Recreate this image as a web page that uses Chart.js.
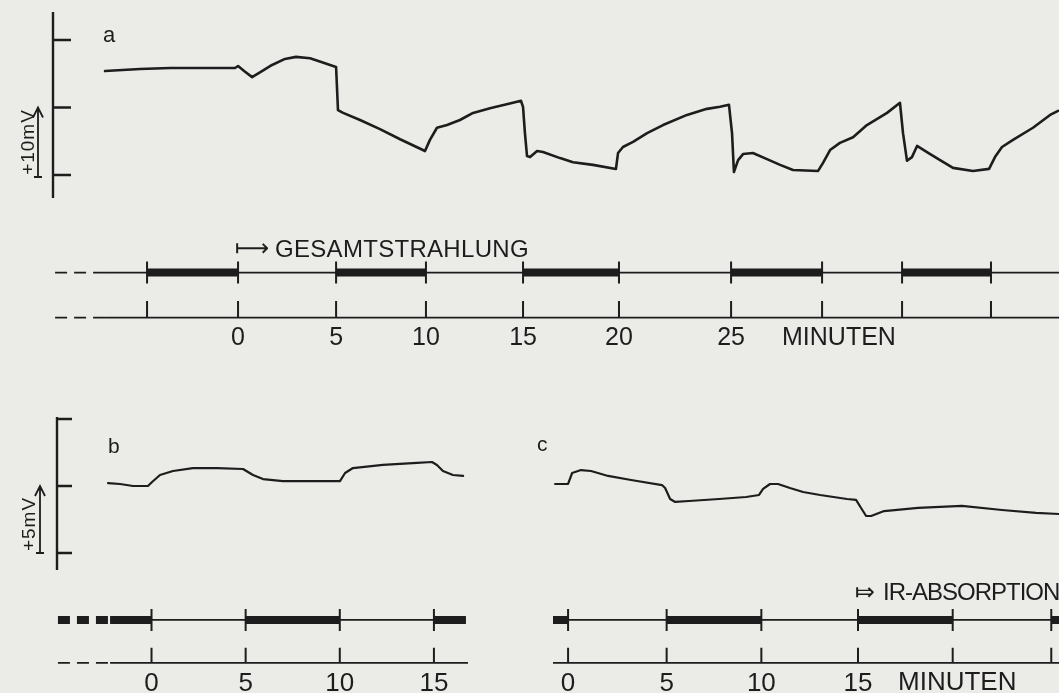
<!DOCTYPE html>
<html>
<head>
<meta charset="utf-8">
<script src="https://cdn.jsdelivr.net/npm/chart.js@4.4.1/dist/chart.umd.min.js"></script>
<style>
  html, body { margin: 0; padding: 0; }
  body { width: 1059px; height: 693px; overflow: hidden; position: relative; background: #ebebe8;
         font-family: "Liberation Sans", "DejaVu Sans", sans-serif; color: #1d1d1d; }
  canvas { position: absolute; }
  .t { position: absolute; line-height: 1; white-space: nowrap; }
  .rot { transform: translate(-50%, -50%) rotate(-90deg); }
  .arr { font-family: "DejaVu Sans", sans-serif; }
</style>
</head>
<body>
<canvas id="traceA" width="1059" height="210" style="left:0;top:0"></canvas>
<canvas id="lineA" width="1059" height="103" style="left:0;top:250px"></canvas>
<canvas id="traceB" width="480" height="180" style="left:0;top:400px"></canvas>
<canvas id="lineB" width="480" height="101" style="left:0;top:598px"></canvas>
<canvas id="traceC" width="519" height="180" style="left:540px;top:400px"></canvas>
<canvas id="lineC" width="519" height="101" style="left:540px;top:598px"></canvas>

<div class="t" style="left:103px;top:24px;font-size:22px">a</div>
<div class="t" style="left:108px;top:435px;font-size:21px">b</div>
<div class="t" style="left:537px;top:433px;font-size:21px">c</div>
<div class="t rot" style="left:27px;top:142px;font-size:19px;letter-spacing:1px">+10mV</div>
<div class="t rot" style="left:28px;top:524px;font-size:19px;letter-spacing:1px">+5mV</div>
<div class="t arr" style="left:235px;top:236px;font-size:24px">&#x27FC;</div>
<div class="t" style="left:275px;top:237px;font-size:24px;letter-spacing:0.3px">GESAMTSTRAHLUNG</div>
<div class="t" style="left:782px;top:324px;font-size:25px">MINUTEN</div>
<div class="t arr" style="left:855px;top:580px;font-size:24px">&#x2907;</div>
<div class="t" style="left:883px;top:580px;font-size:24px;letter-spacing:-1px">IR-ABSORPTION</div>
<div class="t" style="left:898px;top:668px;font-size:26px">MINUTEN</div>

<script>
const INK = '#1d1d1d';

// a: potential (mV above lowest axis tick) against time (min), total radiation
const aTime = [-7.0, -5.16, -3.58, -2.0, -0.16, 0, 0.32, 0.74, 1.26, 1.79, 2.47, 3.05, 3.79, 4.42, 5.0, 5.16,
  5.26, 5.53, 6.42, 7.47, 8.53, 9.84, 10.1, 10.47, 11.0, 11.68, 12.37, 13.26, 14.47, 14.89, 15.0, 15.1,
  15.21, 15.37, 15.74, 16.05, 16.95, 17.63, 18.68, 19.89, 20.0, 20.26, 20.79, 21.53, 22.37, 23.63, 24.68,
  25.37, 25.84, 26.0, 26.1, 26.32, 26.58, 27.1, 27.84, 28.53, 29.21, 30.53, 30.79, 31.16, 31.68, 32.37,
  33.1, 34.16, 34.84, 35.0, 35.21, 35.47, 35.74, 36.26, 36.95, 37.63, 38.68, 39.53, 39.84, 40.21, 40.79,
  41.84, 42.74, 43.16];
const aMv = [15.4, 15.7, 15.85, 15.85, 15.85, 16.15, 15.4, 14.5, 15.4, 16.3, 17.2, 17.5, 17.3, 16.7, 16.15, 16.0,
  9.6, 9.2, 8.15, 6.8, 5.3, 3.55, 5.2, 7.0, 7.4, 8.15, 9.2, 9.9, 10.7, 11.0, 10.1, 6.2,
  2.8, 2.65, 3.55, 3.4, 2.5, 1.9, 1.5, 0.9, 3.25, 4.15, 4.9, 6.2, 7.4, 8.9, 9.8,
  10.1, 10.4, 6.2, 0.45, 2.2, 3.1, 3.25, 2.35, 1.5, 0.75, 0.6, 1.8, 3.7, 4.75, 5.6,
  7.4, 9.2, 10.7, 6.2, 2.1, 2.65, 4.3, 3.4, 2.2, 1.05, 0.6, 0.9, 2.65, 4.15, 5.2,
  7.0, 8.9, 9.5];
const aEdges = [-4.79, 0, 5.16, 9.89, 15.0, 20.05, 25.95, 30.74, 34.95, 39.63];
const aEdgeLabels = ['', '0', '5', '10', '15', '20', '25', '', '', ''];
const aOn = [[-4.79, 0], [5.16, 9.89], [15.0, 20.05], [25.95, 30.74], [34.95, 39.63]];

// b: potential (mV) against time (min)
const bTime = [-2.31, -1.67, -0.98, -0.19, 0.03, 0.45, 1.14, 2.2, 3.48, 4.86, 5.39, 5.92, 6.98, 8.79,
  10.01, 10.28, 10.7, 12.29, 14.1, 14.9, 15.16, 15.48, 16.01, 16.55];
const bMv = [5.22, 5.15, 5.0, 5.0, 5.3, 5.82, 6.12, 6.34, 6.34, 6.27, 5.82, 5.52, 5.37, 5.37,
  5.37, 5.97, 6.34, 6.57, 6.72, 6.79, 6.57, 6.12, 5.82, 5.75];
const bEdges = [0, 5, 10, 15];
const bEdgeLabels = ['0', '5', '10', '15'];
const bOn = [[-2.2, 0], [5, 10], [15, 16.7]];

// c: potential (mV) against time (min), IR absorption from 15 min
const cTime = [-0.67, 0, 0.21, 0.67, 1.19, 2.07, 3.26, 4.86, 5.02, 5.28, 5.54, 6.26, 7.81, 9.21, 9.88, 10.09,
  10.45, 10.86, 11.48, 12.16, 13.04, 14.43, 14.9, 15.16, 15.42, 15.68, 16.35, 18.11, 20.38, 22.45, 24.21, 25.4];
const cMv = [5.15, 5.15, 5.97, 6.19, 6.12, 5.75, 5.45, 5.07, 4.85, 4.03, 3.81, 3.88, 4.03, 4.18, 4.33, 4.78,
  5.15, 5.15, 4.85, 4.55, 4.33, 4.03, 3.96, 3.36, 2.76, 2.76, 3.13, 3.36, 3.51, 3.21, 2.99, 2.91];
const cEdges = [0, 5.1, 10, 15, 19.9, 25];
const cEdgeLabels = ['0', '5', '10', '15', '', ''];
const cOn = [[-0.78, 0], [5.1, 10], [15, 19.9], [25, 25.4]];

// y axis with inward ticks plus the calibration arrow
const framePlugin = {
  id: 'frame',
  afterDraw(chart, args, o) {
    if (!o || !o.ticks) return;
    const { ctx, chartArea: ca } = chart;
    const y = chart.scales.y;
    ctx.save();
    ctx.strokeStyle = INK;
    ctx.lineWidth = 2.4;
    ctx.beginPath();
    ctx.moveTo(ca.left, ca.top);
    ctx.lineTo(ca.left, ca.bottom);
    o.ticks.forEach(v => {
      const p = y.getPixelForValue(v);
      ctx.moveTo(ca.left, p);
      ctx.lineTo(ca.left + o.tickLen, p);
    });
    ctx.stroke();
    const ax = ca.left - o.arrowGap;
    const p0 = y.getPixelForValue(o.arrow[0]), p1 = y.getPixelForValue(o.arrow[1]);
    ctx.lineWidth = 1.8;
    ctx.beginPath();
    ctx.moveTo(ax, p0); ctx.lineTo(ax, p1);
    ctx.moveTo(ax - 4, p0); ctx.lineTo(ax + 4, p0);
    ctx.moveTo(ax - 5, p1 + 10); ctx.lineTo(ax, p1); ctx.lineTo(ax + 5, p1 + 10);
    ctx.stroke();
    ctx.restore();
  }
};

function traceChart(id, time, mv, xr, yr, pad, width, frame) {
  return new Chart(document.getElementById(id), {
    type: 'line',
    data: {
      datasets: [{
        data: time.map((t, i) => ({ x: t, y: mv[i] })),
        borderColor: INK, borderWidth: width, pointRadius: 0, tension: 0,
        borderJoinStyle: 'round', borderCapStyle: 'round'
      }]
    },
    options: {
      responsive: false, animation: false, events: [],
      layout: { padding: pad },
      plugins: { legend: { display: false }, tooltip: { enabled: false }, frame: frame || {} },
      scales: {
        x: { type: 'linear', min: xr[0], max: xr[1], display: false },
        y: { type: 'linear', min: yr[0], max: yr[1], display: false }
      }
    },
    plugins: [framePlugin]
  });
}

// horizontal pieces [from, to, level?] separated by gaps
function segs(pairs, level) {
  const out = [];
  pairs.forEach(p => {
    const lv = p.length > 2 ? p[2] : level;
    out.push({ x: p[0], y: lv }, { x: p[1], y: lv }, { x: p[1], y: null });
  });
  return out;
}
function marks(xs, y0, y1) {
  const out = [];
  xs.forEach(x => out.push({ x, y: y0 }, { x, y: y1 }, { x, y: null }));
  return out;
}

function timelineChart(id, p) {
  const base = { borderColor: INK, borderWidth: 1.8, pointRadius: 0, borderCapStyle: 'butt', spanGaps: false };
  const datasets = [
    { ...base, data: segs([p.top], 1).concat(segs([p.base], 0)) },
    { ...base, borderWidth: 8, data: segs(p.on, 1) },
    { ...base, borderWidth: 2, data: marks(p.edges, 1 - p.up, 1 + p.up).concat(marks(p.edges, 0, p.low)) }
  ];
  if (p.leadThin) datasets.push({ ...base, borderDash: [12, 7], data: segs(p.leadThin, 0) });
  if (p.leadThick) datasets.push({ ...base, borderWidth: 8, borderDash: [12, 7], data: segs(p.leadThick, 1) });
  return new Chart(document.getElementById(id), {
    type: 'line',
    data: { datasets },
    options: {
      responsive: false, animation: false, events: [],
      layout: { padding: { left: p.left, right: p.right, top: 0, bottom: 0 } },
      plugins: { legend: { display: false }, tooltip: { enabled: false } },
      scales: {
        x: {
          type: 'linear', min: p.xr[0], max: p.xr[1], position: 'bottom',
          afterBuildTicks: s => { s.ticks = p.edges.map(v => ({ value: v })); },
          grid: { display: false, drawTicks: false },
          border: { display: false },
          ticks: {
            autoSkip: false, maxRotation: 0, minRotation: 0, padding: 0, color: INK,
            font: { family: 'Liberation Sans', size: p.font },
            callback: (v, i) => p.labels[i]
          }
        },
        y: { type: 'linear', min: p.yr[0], max: p.yr[1], display: false }
      }
    }
  });
}

traceChart('traceA', aTime, aMv, [-9.74, 43.21], [-3.41, 24.15], { left: 53, top: 12, right: 0, bottom: 12 }, 2.6,
  { ticks: [0, 10, 20], tickLen: 18, arrowGap: 15, arrow: [-0.3, 10] });
traceChart('traceB', bTime, bMv, [-5.02, 16.81], [-1.27, 10.15], { left: 57, top: 17, right: 12, bottom: 10 }, 2.2,
  { ticks: [0, 5, 10], tickLen: 15, arrowGap: 17, arrow: [0, 5] });
traceChart('traceC', cTime, cMv, [-0.78, 25.4], [-1.27, 10.15], { left: 13, top: 17, right: 0, bottom: 10 }, 2.2, null);

timelineChart('lineA', {
  xr: [-9.74, 43.21], yr: [-0.12, 1.5], left: 53, right: 0, font: 25,
  top: [-7.0, 43.3], base: [-7.0, 43.3], on: aOn, edges: aEdges, labels: aEdgeLabels,
  up: 0.244, low: 0.37, leadThin: [[-9.63, -7.0, 1], [-9.63, -7.0, 0]]
});
timelineChart('lineB', {
  xr: [-5.02, 16.81], yr: [-0.116, 1.51], left: 57, right: 12, font: 26,
  top: [-2.2, 16.7], base: [-2.2, 16.85], on: bOn, edges: bEdges, labels: bEdgeLabels,
  up: 0.256, low: 0.35, leadThin: [[-4.97, -2.2, 0]], leadThick: [[-4.97, -2.2, 1]]
});
timelineChart('lineC', {
  xr: [-0.78, 25.4], yr: [-0.116, 1.51], left: 13, right: 0, font: 26,
  top: [-0.78, 25.4], base: [-0.78, 25.4], on: cOn, edges: cEdges, labels: cEdgeLabels,
  up: 0.256, low: 0.35
});
</script>
</body>
</html>
